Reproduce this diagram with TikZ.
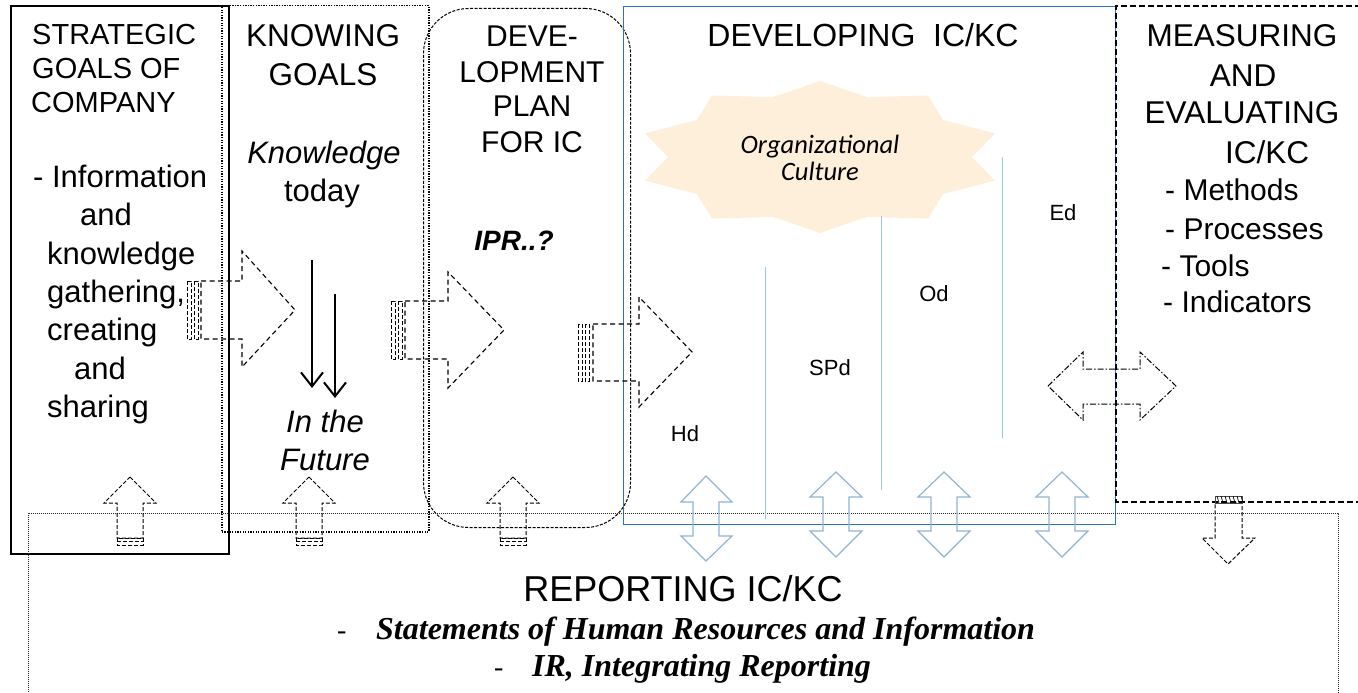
\documentclass[tikz,border=0pt]{standalone}
\usepackage{fontspec}
\setmainfont{Liberation Sans}
\newfontfamily\serifbi{Liberation Serif}
\newfontfamily\carl{Carlito}
\usetikzlibrary{arrows.meta}
\definecolor{boxblue}{HTML}{2E74B5}
\definecolor{arrblue}{HTML}{8EB4D9}
\definecolor{lineblue}{HTML}{9DC3E6}
\definecolor{starfill}{HTML}{FDEFD9}
\newcommand\fsz[1]{\fontsize{#1}{#1}\selectfont}
\begin{document}
\begin{tikzpicture}[x=1pt,y=-1pt,
  hd/.style={font=\fsz{31.5}, inner sep=0pt, anchor=base},
  hdp/.style={font=\fsz{30}, inner sep=0pt, anchor=base},
  hdl/.style={font=\fsz{29}, inner sep=0pt, anchor=base west},
  tx/.style={font=\fsz{31}, inner sep=0pt, anchor=base west},
  ms/.style={font=\fsz{30}, inner sep=0pt, anchor=base west},
  lab/.style={font=\fsz{22}, inner sep=0pt, anchor=base},
  rep/.style={font=\serifbi\bfseries\itshape\fsz{32}, inner sep=0pt, anchor=base west},
  boxsolid/.style={draw, line width=1.8pt, inner sep=0pt, anchor=north west},
  boxdot/.style={draw, line width=1.5pt, dash pattern=on 1.3pt off 1.3pt, inner sep=0pt, anchor=north west},
  boxround/.style={draw, line width=1pt, dash pattern=on 3pt off 1.5pt, rounded corners=45pt, inner sep=0pt, anchor=north west},
  boxblu/.style={draw=boxblue, line width=1.2pt, inner sep=0pt, anchor=north west},
  measdash/.style={line width=1.8pt, dash pattern=on 6pt off 3pt},
  repdot/.style={line width=0.9pt, dash pattern=on 1pt off 1pt, black!85},
  blockarr/.style={draw, line width=1.1pt, dash pattern=on 5pt off 3.5pt},
  stripe/.style={draw, line width=1pt, dash pattern=on 4pt off 2pt},
  dasharr/.style={draw, line width=1pt, dash pattern=on 6pt off 2pt on 1.5pt off 2pt},
  bluearr/.style={draw=arrblue, line width=1.2pt},
  vline/.style={draw=lineblue, line width=1pt},
  downarr/.style={line width=2pt, -{Straight Barb[length=14pt,width=22pt,line width=2pt]}}
]
\useasboundingbox (0,0) rectangle (1358,693);

% ---------- boxes ----------
\node[boxsolid, minimum width=218pt, minimum height=548pt] (strat) at (10,5) {};
\node[boxdot, minimum width=207pt, minimum height=526pt] (know) at (221,5) {};
\node[boxround, minimum width=207pt, minimum height=519pt] (plan) at (423,8) {};
\node[boxblu, minimum width=492pt, minimum height=518pt] (dev) at (623,6) {};
\coordinate (mtl) at (1116,6);
\coordinate (mbl) at (1116,502);
\draw[measdash] (1370,6) -- (mtl) -- (mbl) -- (1370,502);
\coordinate (rtl) at (28,513);
\coordinate (rtr) at (1338,513);
\draw[repdot] (28,700) -- (rtl) -- (rtr) -- (1338,700);

% ---------- star ----------
\fill[starfill] (820,81) \foreach \i in {1,...,19} { -- ({820+(mod(\i,2)==0 ? 184 : 152)*sin(\i*18)}, {157-(mod(\i,2)==0 ? 76 : 63)*cos(\i*18)}) } -- cycle;
\node[font=\carl\itshape\fsz{26.5}, align=center, inner sep=0pt, text depth=0pt] (oc) at (820,158) {\fontsize{26.5}{31}\selectfont Organizational\\Culture};

% ---------- blue vertical lines ----------
\draw[vline] (765,267) -- (765,519);
\draw[vline] (881,216) -- (881,490);
\draw[vline] (1002,157) -- (1002,438);

% ---------- right block arrows ----------
\draw[blockarr] (201,281) -- (242,281) -- (242,251) -- (295,310) -- (242,367) -- (242,339) -- (201,339) -- cycle;
\draw[stripe] (187,281) rectangle (191,339);
\draw[stripe] (194,281) rectangle (198,339);

\draw[blockarr] (405,301) -- (448,301) -- (448,272) -- (504,330) -- (448,388) -- (448,359) -- (405,359) -- cycle;
\draw[stripe] (391,301) rectangle (395,359);
\draw[stripe] (398,301) rectangle (402,359);

\draw[blockarr] (593,324) -- (639,324) -- (639,297) -- (692,352) -- (639,407) -- (639,381) -- (593,381) -- cycle;
\draw[stripe] (578,324) rectangle (582,381);
\draw[stripe] (585,324) rectangle (589,381);

% ---------- up block arrows ----------
\foreach \c in {130,309,513}{
  \draw[blockarr, dash pattern=on 4pt off 2pt, line width=1pt] (\c,477) -- (\c+26,503) -- (\c+13,503) -- (\c+13,538) -- (\c-13,538) -- (\c-13,503) -- (\c-26,503) -- cycle;
  \draw[stripe, line width=0.9pt] (\c-13,538) rectangle (\c+13,545);
  \draw[stripe, line width=0.9pt] (\c-13,541.5) -- (\c+13,541.5);
}

% ---------- blue double arrows ----------
\draw[bluearr] (706,476) -- (732,502) -- (719,502) -- (719,536) -- (732,536) -- (706,561) -- (681,536) -- (693,536) -- (693,502) -- (681,502) -- cycle;
\foreach \c in {836,944,1062}{
  \draw[bluearr] (\c,472) -- (\c+26,497) -- (\c+13,497) -- (\c+13,531) -- (\c+26,531) -- (\c,557) -- (\c-26,531) -- (\c-13,531) -- (\c-13,497) -- (\c-26,497) -- cycle;
}

% ---------- horizontal double arrow ----------
\draw[dasharr] (1048,386) -- (1083,352) -- (1083,369) -- (1140,369) -- (1140,352) -- (1176,386) -- (1140,420) -- (1140,404) -- (1083,404) -- (1083,420) -- cycle;

% ---------- down arrow ----------
\draw[blockarr, dash pattern=on 4pt off 2pt, line width=1pt] (1215,503) -- (1242,503) -- (1242,538) -- (1255,538) -- (1228,564) -- (1202,538) -- (1215,538) -- cycle;
\draw[line width=0.8pt, black!70] (1215,496) rectangle (1242,503);
\foreach \xx in {1217,1221,...,1241}{\draw[line width=0.7pt] (\xx,496) -- (\xx+2,503);}

% ---------- solid down arrows ----------
\coordinate (d1s) at (312,260); \coordinate (d1e) at (312,388);
\coordinate (d2s) at (335,294); \coordinate (d2e) at (335,398);
\draw[downarr] (d1s) -- (d1e);
\draw[downarr] (d2s) -- (d2e);

% ---------- texts box 1 ----------
\node[hdl] (s1) at (32,45) {STRATEGIC};
\node[hdl] (s2) at (32,79) {GOALS OF};
\node[hdl] (s3) at (31,113) {COMPANY};
\node[tx] (b1) at (33,187) {- Information};
\node[tx] (b2) at (80,225) {and};
\node[tx] (b3) at (47,264) {knowledge};
\node[tx] (b4) at (47,302) {gathering,};
\node[tx] (b5) at (47,340) {creating};
\node[tx] (b6) at (74,379) {and};
\node[tx] (b7) at (47,417) {sharing};

% ---------- texts box 2 ----------
\node[hd] (k1) at (323,47) {KNOWING};
\node[hd] (k2) at (323,85) {GOALS};
\node[hd, font=\fsz{31}\itshape] (k3) at (324,163) {Knowledge};
\node[hd, font=\fsz{31}] (k4) at (322,201) {today};
\node[hd, font=\fsz{31}\itshape] (k5) at (325,432) {In the};
\node[hd, font=\fsz{31}\itshape] (k6) at (325,470) {Future};

% ---------- texts box 3 ----------
\node[hdp] (p1) at (532,47) {DEVE-};
\node[hdp] (p2) at (532,82) {LOPMENT};
\node[hdp] (p3) at (532,117) {PLAN};
\node[hdp] (p4) at (532,152) {FOR IC};
\node[hd, font=\fsz{28}\bfseries\itshape] (p5) at (514,250) {IPR..?};

% ---------- texts box 4 ----------
\node[hd, font=\fsz{32}] (dv) at (863,47) {DEVELOPING\ \ IC/KC};
\node[lab] (hd) at (685,441) {Hd};
\node[lab] (sp) at (830,375) {SPd};
\node[lab] (od) at (934,301) {Od};
\node[lab] (ed) at (1063,220) {Ed};

% ---------- texts box 5 ----------
\node[hd] (m1) at (1242,47) {MEASURING};
\node[hd] (m2) at (1243,87) {AND};
\node[hd] (m3) at (1242,124) {EVALUATING};
\node[hd] (m4) at (1267,163) {IC/KC};
\node[ms] (m5) at (1165,200) {- Methods};
\node[ms] (m6) at (1165,239) {- Processes};
\node[ms] (m7) at (1161,276) {- Tools};
\node[ms] (m8) at (1163,312) {- Indicators};

% ---------- reporting ----------
\node[hd, font=\fsz{36}] (r0) at (683,601) {REPORTING IC/KC};
\node[tx, font=\serifbi\fsz{28}] (r1d) at (337,639) {-};
\node[rep] (r1) at (376,639) {Statements of Human Resources and Information};
\node[tx, font=\serifbi\fsz{28}] (r2d) at (494,676) {-};
\node[rep] (r2) at (532,676) {IR, Integrating Reporting};
\end{tikzpicture}
\end{document}
